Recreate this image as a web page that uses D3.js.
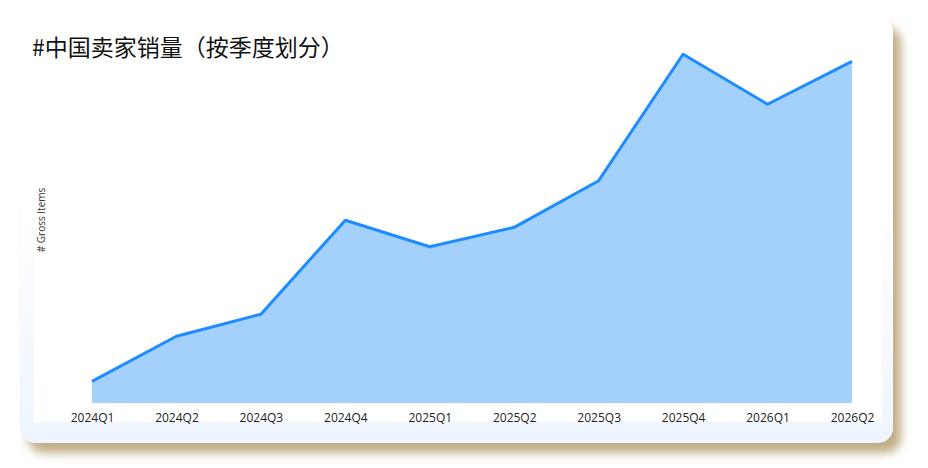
<!DOCTYPE html>
<html>
<head>
    <meta charset='utf-8'>
    <title>中国卖家销量</title>
    <script src='https://cdn.jsdelivr.net/npm/d3@7/dist/d3.min.js'></script>
    <style>
        body { margin: 0; background: #fff; }
    </style>
</head>
<body>
    <svg width='928' height='468'></svg>
    <script>
        // 数据
        const quarters = ['2024Q1', '2024Q2', '2024Q3', '2024Q4', '2025Q1', '2025Q2', '2025Q3', '2025Q4', '2026Q1', '2026Q2']
        const grossItems = [5.8, 17.9, 23.8, 49.0, 41.9, 47.1, 59.6, 93.5, 80.1, 91.6]
        const titleText = '#中国卖家销量（按季度划分）'
        const yLabel = '# Gross Items'

        const svg = d3.select('svg')
        const card = { x: 20, y: 17, w: 873, h: 426, r: 15 }
        const plot = { left: 92, right: 852, top: 30, bottom: 403 }

        const defs = svg.append('defs')
        const shadow = defs.append('filter').attr('id', 'shadow')
            .attr('x', '-5%').attr('y', '-5%').attr('width', '115%').attr('height', '120%')
        shadow.append('feDropShadow')
            .attr('dx', 8).attr('dy', 10).attr('stdDeviation', 5)
            .attr('flood-color', '#b49868').attr('flood-opacity', 0.8)
        const grad = defs.append('linearGradient').attr('id', 'cardbg')
            .attr('x1', 0).attr('y1', 0).attr('x2', 0).attr('y2', 1)
        grad.append('stop').attr('offset', '45%').attr('stop-color', '#ffffff')
        grad.append('stop').attr('offset', '100%').attr('stop-color', '#eef5fe')

        // 卡片背景
        svg.append('rect')
            .attr('x', card.x).attr('y', card.y)
            .attr('width', card.w).attr('height', card.h)
            .attr('rx', card.r)
            .attr('fill', 'url(#cardbg)')
            .attr('filter', 'url(#shadow)')
        // 绘图区白底
        svg.append('rect')
            .attr('x', 34).attr('y', 30)
            .attr('width', 848).attr('height', 392)
            .attr('fill', '#fff')

        const xScale = d3.scalePoint(quarters, [plot.left, plot.right])
        const yScale = d3.scaleLinear([0, 100], [plot.bottom, plot.top])

        const g = svg.append('g')

        const area = d3.area()
            .x((d, i) => xScale(quarters[i]))
            .y0(yScale(0))
            .y1(d => yScale(d))
        const line = d3.line()
            .x((d, i) => xScale(quarters[i]))
            .y(d => yScale(d))

        g.append('path').datum(grossItems)
            .attr('d', area)
            .attr('fill', '#a3d1fc')
        g.append('path').datum(grossItems)
            .attr('d', line)
            .attr('fill', 'none')
            .attr('stroke', '#1e8cff')
            .attr('stroke-width', 3)
            .attr('stroke-linejoin', 'round')

        // x轴
        const xAxis = d3.axisBottom(xScale).tickSize(0).tickPadding(10)
        const gx = g.append('g')
            .attr('transform', `translate(0, ${plot.bottom})`)
            .call(xAxis)
        gx.select('.domain').remove()
        gx.selectAll('text')
            .attr('font-family', "'Open Sans', sans-serif")
            .attr('font-size', '12px')
            .attr('fill', '#222')

        // y轴标签
        svg.append('text')
            .attr('transform', 'translate(45, 220) rotate(-90)')
            .attr('text-anchor', 'middle')
            .attr('font-family', "'Open Sans', sans-serif")
            .attr('font-size', '10px')
            .attr('fill', '#333')
            .text(yLabel)

        // 标题
        svg.append('text')
            .attr('x', 32).attr('y', 56)
            .attr('font-family', "'Noto Sans CJK SC', sans-serif")
            .attr('font-size', '23px')
            .attr('fill', '#111')
            .text(titleText)
    </script>
</body>
</html>
